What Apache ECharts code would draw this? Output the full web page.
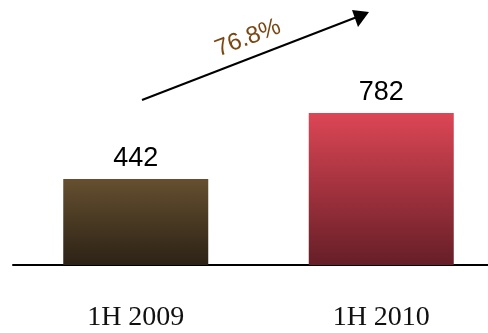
<!DOCTYPE html>
<html>
<head>
<meta charset="utf-8">
<script src="https://cdn.jsdelivr.net/npm/echarts@6/dist/echarts.min.js"></script>
<style>
  html, body { margin: 0; padding: 0; background: #fff; overflow: hidden; }
  #chart { width: 504px; height: 333px; }
</style>
</head>
<body>
<div id="chart"></div>
<script>
// Half-year totals
const categories = ['1H 2009', '1H 2010'];
const values = [442, 782];
const growthLabel = '76.8%';

// Vertical gradients for each bar (top colour, bottom colour)
const barGradients = [
  ['#654f30', '#2c2215'],
  ['#dd4655', '#661e27']
];

const chart = echarts.init(document.getElementById('chart'), null, { renderer: 'canvas' });

const option = {
  animation: false,
  // the baseline runs past the right edge of the visible area
  grid: { left: 13, right: 0, top: 70.6, bottom: 68, containLabel: false },
  xAxis: {
    type: 'category',
    data: categories,
    axisLine: { show: true, lineStyle: { color: '#000', width: 2 } },
    axisTick: { show: false },
    axisLabel: {
      margin: 39,
      fontFamily: 'Liberation Serif, DejaVu Serif, serif',
      fontSize: 28,
      color: '#111'
    }
  },
  yAxis: {
    type: 'value',
    min: 0,
    max: 1000,
    show: false,
    splitLine: { show: false }
  },
  series: [{
    type: 'bar',
    barWidth: 145,
    data: values.map((v, i) => ({
      value: v,
      itemStyle: {
        color: new echarts.graphic.LinearGradient(0, 0, 0, 1, [
          { offset: 0, color: barGradients[i][0] },
          { offset: 1, color: barGradients[i][1] }
        ])
      }
    })),
    label: {
      show: true,
      position: 'top',
      distance: 7,
      fontFamily: 'Liberation Sans, Arial, sans-serif',
      fontSize: 27,
      color: '#000'
    }
  }],
  graphic: [
    // growth arrow
    {
      type: 'line',
      shape: { x1: 142, y1: 100, x2: 357, y2: 17 },
      style: { stroke: '#000', lineWidth: 2 }
    },
    {
      type: 'polygon',
      shape: { points: [[369, 12], [352, 10], [358, 27]] },
      style: { fill: '#000' }
    },
    {
      type: 'text',
      x: 248,
      y: 38,
      rotation: 21 * Math.PI / 180,
      style: {
        text: growthLabel,
        fontFamily: 'Liberation Sans, Arial, sans-serif',
        fontSize: 24,
        fill: '#7a4713',
        align: 'center',
        verticalAlign: 'middle'
      }
    }
  ]
};

chart.setOption(option);
</script>
</body>
</html>
